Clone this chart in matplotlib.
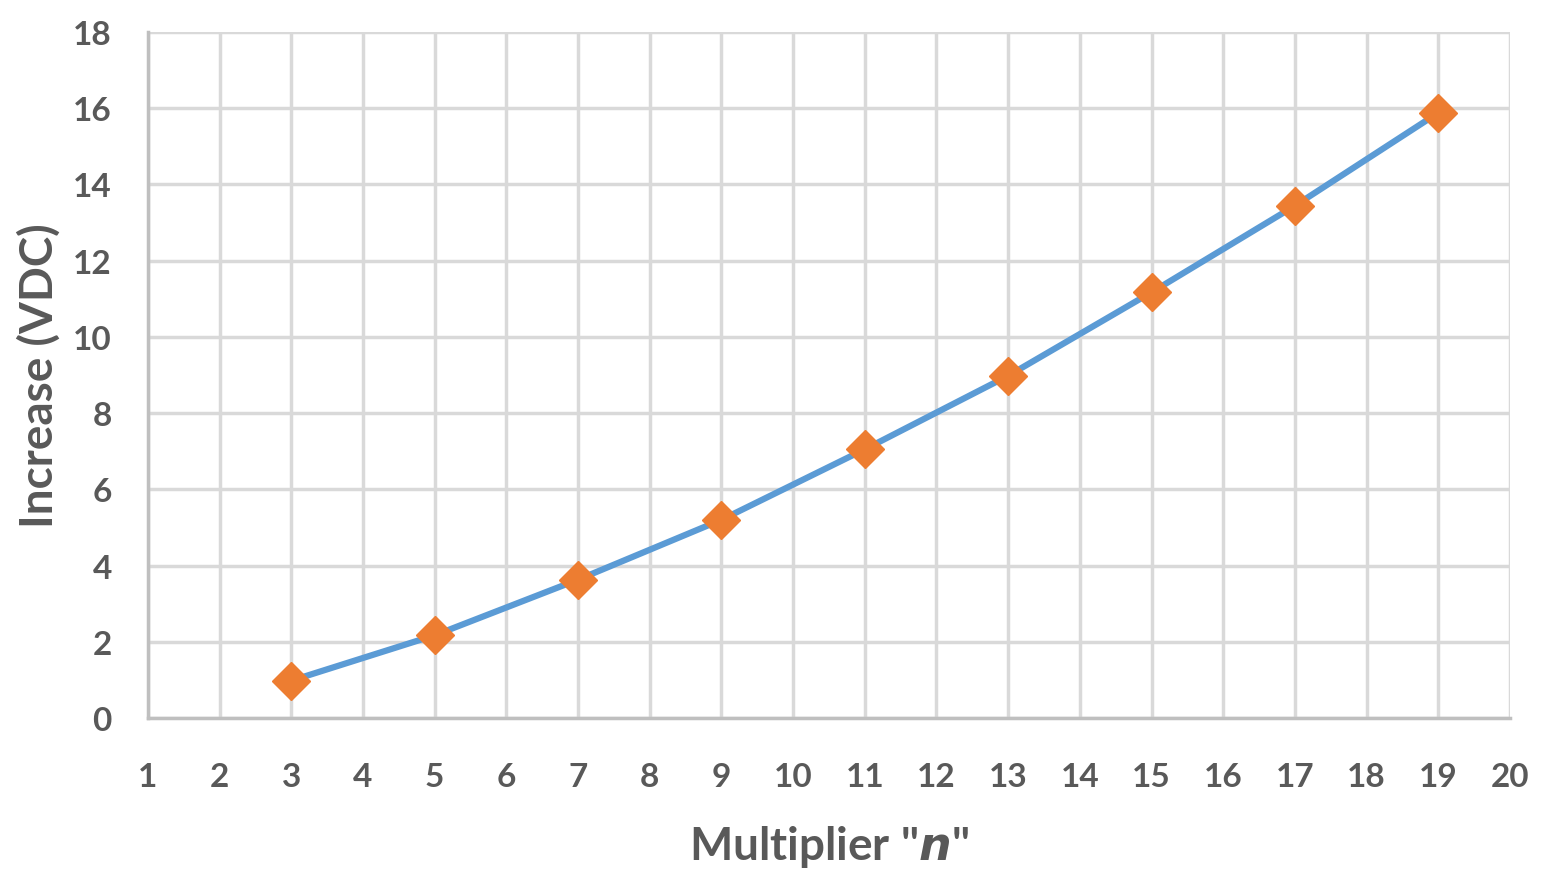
import numpy as np
import matplotlib.pyplot as plt

n_values = [3, 5, 7, 9, 11, 13, 15, 17, 19]
increase_vdc = [0.98, 2.17, 3.63, 5.2, 7.05, 8.98, 11.17, 13.44, 15.88]

x_ticks = list(range(1, 21))
y_ticks = list(range(0, 19, 2))

txt = '#595959'
plt.rcParams['font.family'] = ['Lato', 'DejaVu Sans']

fig = plt.figure(figsize=(15.49, 8.87), dpi=100)
ax = fig.add_axes([0.0955, 0.1894, 0.8793, 0.7734])

ax.plot(n_values, increase_vdc, color='#5b9bd5', linewidth=4.5, zorder=3)
ax.plot(n_values, increase_vdc, linestyle='none', marker='D', markersize=19,
        color='#ed7d31', zorder=4)

ax.set_xlim(1, 20)
ax.set_ylim(0, 18)
ax.set_xticks(x_ticks)
ax.set_yticks(y_ticks)
ax.grid(True, color='#d9d9d9', linewidth=2.5)
ax.set_axisbelow(True)

for s in ['top', 'right']:
    ax.spines[s].set_visible(False)
for s in ['left', 'bottom']:
    ax.spines[s].set_color('#bfbfbf')
    ax.spines[s].set_linewidth(2.5)

ax.tick_params(length=0, labelsize=24, labelcolor=txt)
ax.tick_params(axis='x', pad=32)
ax.tick_params(axis='y', pad=26)
for lab in ax.get_xticklabels() + ax.get_yticklabels():
    lab.set_fontweight('bold')

ax.set_xlabel('Multiplier "$\\mathbfit{n}$"', fontsize=33, fontweight='bold',
              color=txt, labelpad=23)
ax.set_ylabel('Increase (VDC)', fontsize=33, fontweight='bold', color=txt,
              labelpad=9)

fig.savefig('out.png', dpi=100)
